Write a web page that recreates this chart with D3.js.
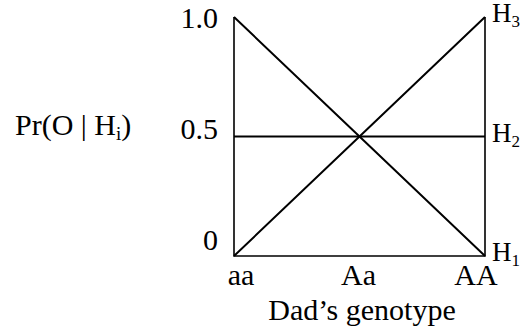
<!DOCTYPE html>
<meta charset="utf-8">
<style>
  body { margin: 0; background: #fff; }
  svg text { font-family: "Liberation Serif", "Times New Roman", serif; fill: #000; }
  .line { fill: none; stroke: #000; stroke-width: 2px; }
  .frame { fill: none; stroke: #000; stroke-width: 1.6px; }
</style>
<body>
<div id="chart"></div>
<script src="https://cdnjs.cloudflare.com/ajax/libs/d3/7.8.5/d3.min.js"></script>
<script>
  // data
  var genotypes = ["aa", "Aa", "AA"];
  var yTicks = [0, 0.5, 1.0];
  var yTickLabels = ["0", "0.5", "1.0"];
  var hypotheses = ["1", "2", "3"];
  var h1 = [1, 0.5, 0];
  var h2 = [0.5, 0.5, 0.5];
  var h3 = [0, 0.5, 1];

  var width = 530, height = 333;
  var fs = 30, subFs = 19;

  var svg = d3.select("#chart").append("svg")
    .attr("width", width)
    .attr("height", height);

  var x = d3.scalePoint().domain(genotypes).range([234, 485]);
  var y = d3.scaleLinear().domain([0, 1]).range([256, 17]);
  // label placement (labels sit a bit off the ticks in the original)
  var xLab = d3.scalePoint().domain(genotypes).range([241, 476]);
  var yLab = d3.scaleLinear().domain([0, 1]).range([250, 28]);

  // frame: left, bottom, right
  svg.append("path").attr("class", "frame")
    .attr("d", d3.line()([[x("aa"), y(1)], [x("aa"), y(0)], [x("AA"), y(0)], [x("AA"), y(1)]]));

  var series = [h1, h2, h3];
  var line = d3.line()
    .x(function (d, i) { return x(genotypes[i]); })
    .y(function (d) { return y(d); });

  svg.selectAll(".line").data(series).enter().append("path")
    .attr("class", "line")
    .attr("stroke-width", function (d, i) { return i == 1 ? 1.6 : 2.2; })
    .attr("d", line);

  // y tick labels
  svg.selectAll(".ytick").data(yTicks).enter().append("text")
    .attr("class", "ytick")
    .attr("x", 218)
    .attr("y", function (d) { return yLab(d); })
    .attr("text-anchor", "end")
    .style("font-size", fs + "px")
    .text(function (d, i) { return yTickLabels[i]; });

  // x tick labels
  svg.selectAll(".xtick").data(genotypes).enter().append("text")
    .attr("class", "xtick")
    .attr("x", function (d) { return xLab(d); })
    .attr("y", 285)
    .attr("text-anchor", "middle")
    .style("font-size", fs + "px")
    .text(function (d) { return d; });

  // hypothesis labels at end of each line
  var hl = svg.selectAll(".hlab").data(series).enter().append("text")
    .attr("class", "hlab")
    .attr("x", x("AA") + 7)
    .attr("y", function (d) { return y(d[d.length - 1]) + 5; })
    .style("font-size", "27px");
  hl.append("tspan").text("H");
  hl.append("tspan")
    .attr("dy", 5)
    .style("font-size", "17px")
    .text(function (d, i) { return hypotheses[i]; });

  // y axis title
  var yt = svg.append("text")
    .attr("x", 15)
    .attr("y", 135)
    .style("font-size", fs + "px");
  yt.append("tspan").text("Pr(O | H");
  yt.append("tspan").attr("dy", 5).style("font-size", subFs + "px").text("i");
  yt.append("tspan").attr("dy", -5).text(")");

  // x axis title
  svg.append("text")
    .attr("x", 362)
    .attr("y", 320)
    .attr("text-anchor", "middle")
    .style("font-size", fs + "px")
    .text("Dad\u2019s genotype");
</script>
</body>
